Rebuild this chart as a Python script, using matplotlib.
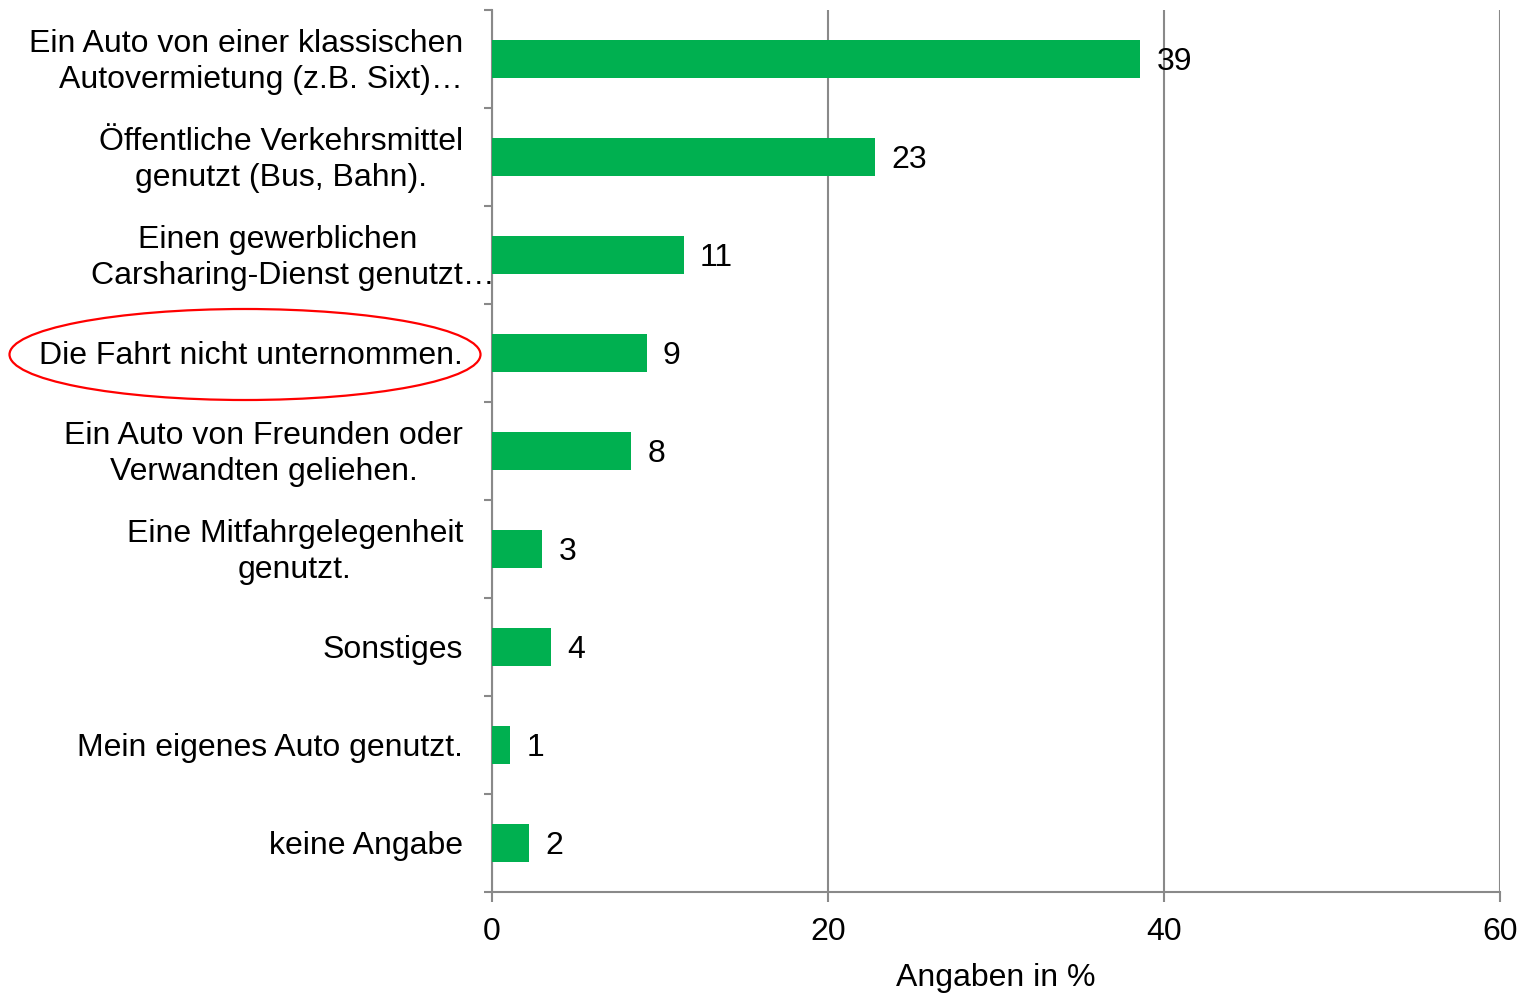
import matplotlib
matplotlib.use("Agg")
import matplotlib.pyplot as plt
from matplotlib.patches import Ellipse

plt.rcParams['font.family'] = ['Liberation Sans', 'DejaVu Sans']

# --- Data ---
categories = [
    "Ein Auto von einer klassischen\nAutovermietung (z.B. Sixt)…",
    "Öffentliche Verkehrsmittel\ngenutzt (Bus, Bahn).",
    "Einen gewerblichen\nCarsharing-Dienst genutzt…",
    "Die Fahrt nicht unternommen.",
    "Ein Auto von Freunden oder\nVerwandten geliehen.",
    "Eine Mitfahrgelegenheit\ngenutzt.",
    "Sonstiges",
    "Mein eigenes Auto genutzt.",
    "keine Angabe",
]
values = [38.6, 22.8, 11.4, 9.2, 8.3, 3.0, 3.5, 1.1, 2.2]
value_labels = ["39", "23", "11", "9", "8", "3", "4", "1", "2"]
x_ticks = [0, 20, 40, 60]

green = '#00B050'
grey = '#898989'
fs = 23

fig = plt.figure(figsize=(15.22, 9.93), dpi=100)
ax = fig.add_axes([492 / 1522, 1 - 892 / 993, 1008 / 1522, 882 / 993])

pos = list(range(len(categories)))
ax.barh(pos, values, height=0.39, color=green, zorder=3)

ax.set_xlim(0, 60)
ax.set_ylim(len(categories) - 0.5, -0.5)

# Gridlines and spines
ax.set_xticks(x_ticks)
ax.set_xticklabels([str(t) for t in x_ticks], fontsize=fs)
ax.grid(axis='x', color=grey, linewidth=1.5, zorder=0)
for s in ['top', 'right']:
    ax.spines[s].set_visible(False)
for s in ['left', 'bottom']:
    ax.spines[s].set_color(grey)
    ax.spines[s].set_linewidth(1.5)
ax.tick_params(axis='x', direction='out', length=7, width=1.5, color=grey, pad=11)

# Category boundary ticks on the y axis
ax.set_yticks([p - 0.5 for p in pos] + [len(categories) - 0.5])
ax.set_yticklabels([])
ax.tick_params(axis='y', direction='out', length=6, width=1.5, color=grey)

# Category labels (Excel-style: centered lines, truncated lines spill over)
for i, lab in enumerate(categories):
    if i == 2:
        # truncated label: first line centered, second line runs past the axis
        l1, l2 = lab.split("\n")
        ax.annotate(l1, xy=(0, i), xycoords=('axes fraction', 'data'),
                    xytext=(-214, 15), textcoords='offset pixels',
                    ha='center', va='center', fontsize=fs)
        ax.annotate(l2, xy=(0, i), xycoords=('axes fraction', 'data'),
                    xytext=(3, -21), textcoords='offset pixels',
                    ha='right', va='center', fontsize=fs)
        continue
    ma = 'right' if i == 0 else 'center'
    ax.annotate(lab, xy=(0, i), xycoords=('axes fraction', 'data'),
                xytext=(-29, -3), textcoords='offset pixels',
                ha='right', va='center', multialignment=ma,
                fontsize=fs, linespacing=1.25)

# Value labels
for i, (v, lab) in enumerate(zip(values, value_labels)):
    ax.annotate(lab, xy=(v, i), xytext=(16, -3), textcoords='offset pixels',
                ha='left', va='center', fontsize=fs, zorder=5)

ax.set_xlabel("Angaben in %", fontsize=fs, labelpad=11.5)

# Red highlight ellipse around one label
ell = Ellipse((245 / 1522, 1 - 354.5 / 993), 471 / 1522, 91 / 993,
              transform=fig.transFigure, fill=False, edgecolor='#FF0000', linewidth=1.6)
fig.patches.append(ell)

fig.savefig('out.png', dpi=100)
